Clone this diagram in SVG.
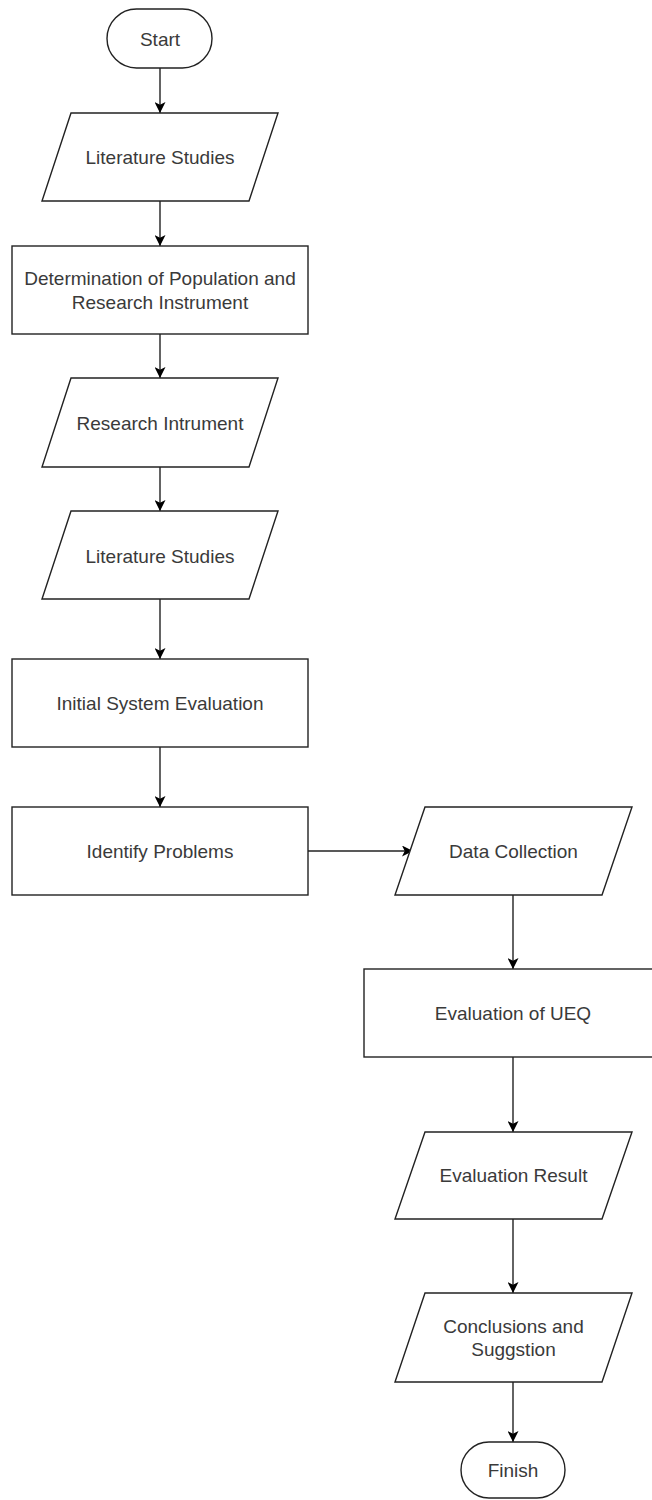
<svg xmlns="http://www.w3.org/2000/svg" width="652" height="1500" viewBox="0 0 652 1500">
<style>
.s{fill:#fff;stroke:#222;stroke-width:1.4}
.t{font-family:"Liberation Sans",Arial,sans-serif;font-size:19px;fill:#3a3a3a;text-anchor:middle}
.c{fill:none;stroke:#222;stroke-width:1.4}
</style>
<defs>
<marker id="ah" viewBox="0 0 10 10" refX="10" refY="5" markerWidth="11" markerHeight="11" markerUnits="userSpaceOnUse" orient="auto">
<path d="M0,0 L10,5 L0,10 L2.5,5 Z" fill="#000"/>
</marker>
</defs>
<rect width="652" height="1500" fill="#fff"/>
<g id="connectors">
<line class="c" x1="160" y1="68" x2="160" y2="113" marker-end="url(#ah)"/>
<line class="c" x1="160" y1="201" x2="160" y2="246" marker-end="url(#ah)"/>
<line class="c" x1="160" y1="334" x2="160" y2="378" marker-end="url(#ah)"/>
<line class="c" x1="160" y1="467" x2="160" y2="511" marker-end="url(#ah)"/>
<line class="c" x1="160" y1="599" x2="160" y2="659" marker-end="url(#ah)"/>
<line class="c" x1="160" y1="747" x2="160" y2="807" marker-end="url(#ah)"/>
<line class="c" x1="308" y1="851" x2="413" y2="851" marker-end="url(#ah)"/>
<line class="c" x1="513" y1="895" x2="513" y2="969" marker-end="url(#ah)"/>
<line class="c" x1="513" y1="1057" x2="513" y2="1132" marker-end="url(#ah)"/>
<line class="c" x1="513" y1="1219" x2="513" y2="1293" marker-end="url(#ah)"/>
<line class="c" x1="513" y1="1382" x2="513" y2="1442" marker-end="url(#ah)"/>
</g>
<g id="start">
<rect class="s" x="107" y="9" width="105" height="59" rx="29.5"/>
<text class="t" x="160" y="45.5">Start</text>
</g>
<g id="literature1">
<polygon class="s" points="71,113 278,113 249,201 42,201"/>
<text class="t" x="160" y="164">Literature Studies</text>
</g>
<g id="determination">
<rect class="s" x="12" y="246" width="296" height="88"/>
<text class="t" x="160" y="285">Determination of Population and</text>
<text class="t" x="160" y="309">Research Instrument</text>
</g>
<g id="research">
<polygon class="s" points="71,378 278,378 249,467 42,467"/>
<text class="t" x="160" y="429.5">Research Intrument</text>
</g>
<g id="literature2">
<polygon class="s" points="71,511 278,511 249,599 42,599"/>
<text class="t" x="160" y="562.5">Literature Studies</text>
</g>
<g id="initial">
<rect class="s" x="12" y="659" width="296" height="88"/>
<text class="t" x="160" y="710">Initial System Evaluation</text>
</g>
<g id="identify">
<rect class="s" x="12" y="807" width="296" height="88"/>
<text class="t" x="160" y="858">Identify Problems</text>
</g>
<g id="datacollection">
<polygon class="s" points="425,807 632,807 602,895 395,895"/>
<text class="t" x="513.5" y="858">Data Collection</text>
</g>
<g id="ueq">
<rect class="s" x="364" y="969" width="296" height="88"/>
<text class="t" x="513" y="1020">Evaluation of UEQ</text>
</g>
<g id="result">
<polygon class="s" points="425,1132 632,1132 602,1219 395,1219"/>
<text class="t" x="513.5" y="1182">Evaluation Result</text>
</g>
<g id="conclusions">
<polygon class="s" points="425,1293 632,1293 602,1382 395,1382"/>
<text class="t" x="513.5" y="1333">Conclusions and</text>
<text class="t" x="513.5" y="1356">Suggstion</text>
</g>
<g id="finish">
<rect class="s" x="461" y="1442" width="104" height="56" rx="28"/>
<text class="t" x="513" y="1477">Finish</text>
</g>
</svg>
